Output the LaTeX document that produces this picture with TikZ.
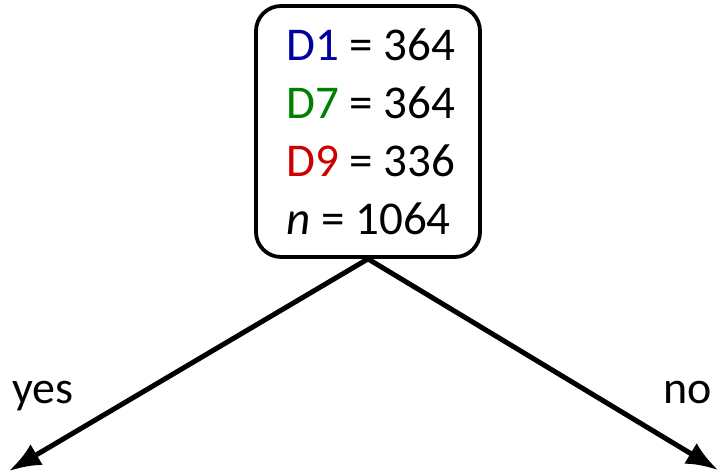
\documentclass[tikz,border=0pt]{standalone}
\usepackage{fontspec}
\setmainfont{Carlito}
\usetikzlibrary{arrows.meta}
\definecolor{dblue}{RGB}{0,0,160}
\definecolor{dgreen}{RGB}{0,128,0}
\definecolor{dred}{RGB}{204,0,0}
\tikzset{
  rootbox/.style={draw, line width=3.8pt, rounded corners=25pt, minimum width=224pt, minimum height=251pt, inner sep=0pt, align=left, font=\fontsize{47}{58}\selectfont},
  branch/.style={line width=5pt, -{Latex[length=32pt,width=24pt]}},
  lbl/.style={anchor=base west, inner sep=0pt, font=\fontsize{46}{54}\selectfont}
}
\begin{document}
\begin{tikzpicture}[x=1pt,y=-1pt]
\useasboundingbox (0,0) rectangle (720,476);
\node[rootbox] (root) at (368,131.5) {\hspace*{6pt}\textcolor{dblue}{D1} = 364\\\hspace*{6pt}\textcolor{dgreen}{D7} = 364\\\hspace*{6pt}\textcolor{dred}{D9} = 336\\\hspace*{6pt}\textit{n} = 1064};
\coordinate (lefttip) at (9,471);
\coordinate (righttip) at (718,470);
\draw[branch] (root.south) -- (lefttip);
\draw[branch] (root.south) -- (righttip);
\node[lbl] (yes) at (12,403) {yes};
\node[lbl] (no) at (663,403) {no};
\end{tikzpicture}
\end{document}
